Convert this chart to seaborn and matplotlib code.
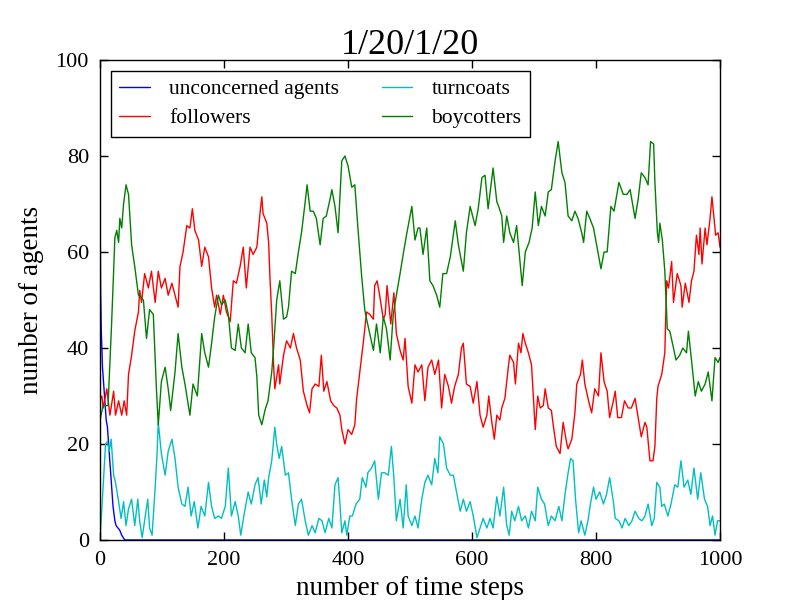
import matplotlib
matplotlib.use("Agg")
import matplotlib.pyplot as plt
import pandas as pd
import seaborn as sns

# ---- data (time step, number of agents) ----
unconcerned_steps = [0, 1, 2, 4, 7, 10, 12, 15, 18, 21, 24, 26, 32, 35, 40, 1000]
unconcerned_vals = [74, 52, 44, 36, 30.5, 25, 23.5, 18, 12.5, 7, 4, 3, 2, 1, 0, 0]

followers_steps = [0, 3, 5, 11, 16, 22, 25, 30, 35, 39, 43, 46, 51, 56, 62, 64, 67, 72, 78, 83, 89, 94, 99,
                   105, 110, 116, 121, 126, 129, 134, 140, 145, 149, 153, 159, 164, 169, 175, 180, 185, 188,
                   194, 199, 204, 210, 215, 220, 226, 231, 236, 242, 247, 253, 258, 261, 263, 269, 272, 274,
                   277, 280, 282, 288, 290, 296, 301, 307, 312, 317, 323, 328, 334, 338, 342, 347, 353, 357,
                   361, 366, 372, 377, 382, 387, 390, 395, 400, 406, 411, 414, 419, 425, 430, 435, 441, 443,
                   447, 451, 457, 460, 463, 469, 474, 478, 484, 489, 492, 497, 503, 508, 513, 519, 524, 529,
                   535, 540, 546, 551, 556, 562, 567, 572, 578, 583, 586, 591, 597, 602, 608, 613, 618, 624,
                   627, 632, 636, 640, 645, 648, 653, 659, 661, 667, 670, 675, 679, 682, 686, 691, 696, 702,
                   706, 710, 715, 718, 723, 728, 732, 736, 742, 747, 753, 755, 761, 766, 769, 775, 778, 782,
                   788, 793, 798, 804, 808, 813, 818, 822, 828, 831, 835, 841, 846, 852, 857, 863, 868, 873,
                   879, 882, 887, 892, 895, 898, 900, 906, 911, 914, 917, 922, 925, 931, 937, 939, 944, 950,
                   954, 958, 962, 966, 968, 971, 976, 979, 984, 987, 993, 997, 1000]
followers_vals = [29, 30, 27.5, 31.5, 26, 31, 26, 29, 26, 29, 26, 34.5, 38.5, 43.5, 47.5, 52, 49.5, 55.5, 52.5,
                  56, 49.5, 56, 52.5, 54.5, 51, 53.5, 51, 48.5, 57, 60, 65.5, 65, 69, 64.5, 62.5, 57, 61, 59,
                  52.5, 48.5, 51, 47, 51, 47.5, 45.5, 54, 53.5, 57, 61, 52.5, 61, 59.5, 61, 68, 71.5, 68, 66,
                  62, 55, 47, 36.5, 31.5, 36.5, 32.5, 38.5, 41.5, 40, 43, 40, 37.5, 31, 28, 26.5, 31.5, 32.5,
                  32, 38.5, 31, 33, 29, 28, 27.5, 26, 23, 20, 23, 22, 24, 29.5, 35, 41.5, 47.5, 47, 46, 53,
                  54, 51, 46, 47, 53, 45, 51.5, 43, 39.5, 37.5, 42, 32, 28.5, 36.5, 35, 36.5, 29, 36, 37.5,
                  34.5, 37.5, 27.5, 34.5, 32, 28.5, 32, 34.5, 40, 41, 32.5, 32, 28.5, 33, 26, 23.5, 26, 30,
                  24.5, 21, 26, 25, 27.5, 29.5, 36.5, 38.5, 37, 32.5, 41, 39, 43, 41, 39, 36.5, 23, 30, 27.5,
                  28, 31.5, 27.5, 27, 23, 19.5, 18, 24.5, 20, 19, 21, 26.5, 32.5, 34.5, 37.5, 32.5, 29, 26.5,
                  31.5, 30, 39, 33, 31, 25.5, 29, 31, 25.5, 25.5, 29, 27.5, 27.5, 29.5, 25.5, 21.5, 24.5,
                  23.5, 16.5, 16.5, 19.5, 29.5, 32, 34.5, 39, 54, 52.5, 58, 49.5, 55.5, 53, 48.5, 53.5, 49.5,
                  54, 56, 63.5, 59.5, 65, 57.5, 65, 61.5, 67, 71.5, 63.5, 64, 61]

turncoats_steps = [0, 5, 9, 12, 15, 18, 22, 25, 30, 34, 38, 42, 46, 51, 56, 61, 64, 68, 73, 77, 80, 84, 89, 92,
                   94, 99, 105, 110, 116, 121, 126, 132, 137, 142, 147, 152, 158, 163, 169, 175, 180, 185,
                   191, 196, 202, 207, 212, 218, 223, 227, 232, 239, 244, 250, 255, 260, 265, 269, 272, 277,
                   282, 285, 289, 293, 299, 304, 309, 315, 320, 325, 331, 336, 342, 347, 353, 358, 363, 369,
                   374, 379, 384, 387, 390, 395, 398, 403, 407, 413, 419, 423, 429, 432, 438, 443, 449, 454,
                   459, 465, 470, 474, 478, 484, 489, 494, 497, 503, 508, 513, 519, 524, 529, 535, 540, 545,
                   548, 554, 559, 565, 570, 575, 581, 586, 591, 597, 602, 608, 613, 618, 624, 629, 634, 640,
                   645, 651, 656, 660, 664, 669, 675, 680, 686, 691, 696, 702, 706, 712, 717, 723, 728, 734,
                   740, 745, 750, 755, 759, 763, 767, 772, 776, 782, 787, 791, 796, 800, 806, 812, 817, 822,
                   828, 831, 837, 842, 847, 853, 858, 863, 869, 874, 879, 884, 890, 894, 898, 903, 906, 910,
                   916, 921, 927, 932, 937, 942, 948, 953, 958, 964, 969, 975, 980, 984, 988, 992, 996, 1000]
turncoats_vals = [0, 11, 20, 20.5, 18.5, 21, 13.5, 12, 8, 4.5, 8, 3, 6.5, 8.5, 3, 8.5, 4, 0.5, 5, 8.5, 2.5, 1,
                  11, 18, 24.5, 18, 13.5, 18.5, 21, 17, 11, 7.5, 7, 11, 5, 8, 2.5, 7, 5, 12, 7, 4.5, 5, 4.5,
                  7, 15, 5, 8, 5, 1, 5, 10, 7.5, 11.5, 13, 7.5, 12.5, 9, 13, 16.5, 23.5, 20, 17, 19.5, 13.5,
                  14, 8.5, 3, 7.5, 8.5, 4, 1, 3, 1.5, 4.5, 4, 1.5, 4.5, 2.5, 11.5, 13, 7.5, 1.5, 4, 1, 5, 5,
                  7.5, 8.5, 13, 11, 14, 15, 16.5, 8.5, 14, 14, 13.5, 19.5, 13, 4, 8.5, 2.5, 11.5, 5, 3, 5,
                  2.5, 8.5, 12, 13.5, 11.5, 17, 14, 21.5, 20, 15, 13.5, 13.5, 10, 6, 8.5, 6, 8, 5, 0.5, 2.5,
                  4.5, 2.5, 4.5, 2.5, 9, 5, 11, 3, 1, 6, 4, 7, 4, 5, 2.5, 6, 4, 11, 8.5, 7.5, 3, 5, 4, 7, 4,
                  9.5, 14, 17, 16.5, 8.5, 1.5, 4, 1, 4, 7.5, 11, 8.5, 10, 7.5, 9.5, 13, 8, 4.5, 4, 2.5, 4.5,
                  3, 4, 6, 4.5, 4, 5, 7.5, 3, 4.5, 12, 11, 7, 7.5, 5, 7.5, 11.5, 11, 16.5, 11, 12.5, 9.5, 15,
                  8.5, 14, 8.5, 7, 3, 5, 1, 4, 4]

boycotters_steps = [0, 5, 13, 19, 24, 27, 30, 32, 35, 38, 42, 46, 51, 56, 62, 70, 75, 80, 86, 91, 94, 99, 105,
                    110, 114, 121, 126, 132, 137, 145, 150, 157, 164, 169, 175, 180, 185, 191, 196, 202, 207,
                    212, 218, 223, 228, 234, 239, 244, 250, 253, 256, 261, 266, 271, 277, 280, 285, 290, 296,
                    301, 304, 309, 315, 320, 325, 331, 334, 339, 344, 349, 355, 360, 365, 371, 374, 379, 384,
                    390, 395, 400, 406, 411, 416, 422, 427, 430, 435, 441, 446, 452, 457, 462, 468, 473, 478,
                    484, 489, 495, 503, 508, 513, 516, 521, 527, 532, 537, 543, 548, 553, 559, 565, 573, 578,
                    586, 591, 597, 605, 610, 616, 621, 626, 634, 640, 643, 648, 651, 656, 661, 667, 672, 677,
                    681, 686, 692, 697, 702, 707, 712, 718, 723, 728, 734, 739, 745, 750, 755, 761, 766, 771,
                    777, 780, 785, 790, 796, 801, 808, 813, 818, 824, 829, 837, 844, 850, 855, 863, 868, 873,
                    879, 884, 888, 893, 895, 899, 901, 903, 907, 911, 915, 919, 925, 929, 935, 940, 946, 949,
                    954, 960, 965, 970, 976, 981, 987, 992, 997, 1000]
boycotters_vals = [25, 28, 28, 46, 63, 64.5, 62, 67, 65, 70, 74, 72, 61.5, 57, 51, 50, 42, 48, 47, 31.5, 24,
                   33, 36, 31.5, 27, 35, 43, 36, 32.5, 26, 32.5, 30, 43, 39, 36, 41, 46.5, 51, 49, 50, 47, 40,
                   39.5, 45, 40, 39, 45, 39, 38, 34, 26, 24, 27, 29, 35, 40, 50, 54, 46, 46.5, 48.5, 56, 55.5,
                   60, 64, 70.5, 74, 68.5, 68.5, 67, 61.5, 67, 67.5, 71, 73, 69.5, 64, 79, 80, 78, 73.5, 74,
                   65, 55, 48, 46, 43, 39.5, 45, 39, 46.5, 44, 37.5, 47, 51, 55.5, 59.5, 64, 69.5, 62.5, 65,
                   65, 59.5, 65, 54, 53, 51, 48.5, 55.5, 55.5, 59, 66.5, 61.5, 56, 64, 69.5, 65.5, 69, 75.5,
                   76, 69, 77.5, 70.5, 69.5, 67.5, 62, 67.5, 64, 62, 65.5, 58.5, 53, 60, 62, 65, 72.5, 65.5,
                   69.5, 67.5, 72.5, 73, 79, 83, 76.5, 74.5, 67.5, 66.5, 68.5, 67, 64, 62, 68.5, 67, 65, 61.5,
                   56.5, 60, 60, 69.5, 68.5, 74.5, 72, 72, 73, 67, 71, 76.5, 75.5, 74, 83, 82.5, 74.5, 64, 62,
                   66, 62.5, 56, 44, 43.5, 40, 37.5, 38.5, 40, 39, 43.5, 37.5, 30, 33, 31, 32.5, 35, 29, 38,
                   37, 38]

series_names = ["unconcerned agents", "followers", "turncoats", "boycotters"]
series_colors = ["#0000ff", "#ff0000", "#00bfbf", "#008000"]
x_ticks = [0, 200, 400, 600, 800, 1000]
y_ticks = [0, 20, 40, 60, 80, 100]
title_text = "1/20/1/20"
x_label = "number of time steps"
y_label = "number of agents"

# ---- build long-form table ----
frames = []
for name, st, vals in zip(series_names,
                          [unconcerned_steps, followers_steps, turncoats_steps, boycotters_steps],
                          [unconcerned_vals, followers_vals, turncoats_vals, boycotters_vals]):
    frames.append(pd.DataFrame({"step": st, "agents": vals, "series": name}))
df = pd.concat(frames, ignore_index=True)

sns.set_theme(style="ticks", rc={
    "axes.facecolor": "white",
    "figure.facecolor": "white",
    "axes.edgecolor": "black",
    "axes.linewidth": 1.0,
    "xtick.color": "black",
    "ytick.color": "black",
    "text.color": "black",
    "axes.labelcolor": "black",
})
plt.rcParams["font.family"] = ["Liberation Serif", "DejaVu Serif"]

fig, ax = plt.subplots(figsize=(8, 6), dpi=100)
fig.subplots_adjust(left=0.125, right=0.9, bottom=0.1, top=0.9)

sns.lineplot(data=df, x="step", y="agents", hue="series", hue_order=series_names,
             palette=dict(zip(series_names, series_colors)), estimator=None, sort=True,
             linewidth=1.0, ax=ax)

ax.set_xlim(0, 1000)
ax.set_ylim(0, 100)
ax.set_xticks(x_ticks)
ax.set_yticks(y_ticks)
ax.tick_params(direction="in", top=True, right=True, length=6, width=1, labelsize=16, pad=8)
for s in ax.spines.values():
    s.set_visible(True)
    s.set_color("black")
    s.set_linewidth(1.0)

ax.set_title(title_text, fontsize=26, pad=4)
ax.set_xlabel(x_label, fontsize=19.5, labelpad=4)
ax.set_ylabel(y_label, fontsize=19.5, labelpad=8)

old = ax.get_legend()
handles = old.legend_handles
labels = [t.get_text() for t in old.get_texts()]
old.remove()
leg = ax.legend(handles, labels, loc="upper left", ncol=2, fancybox=False, frameon=True,
                edgecolor="black", framealpha=1, fontsize=15.5, borderaxespad=0.5,
                handlelength=1.4, handletextpad=0.9, columnspacing=2.0, borderpad=0.4,
                labelspacing=0.4)
leg.get_frame().set_linewidth(1.0)
for h in leg.legend_handles:
    h.set_linewidth(1.0)

fig.savefig("out.png", dpi=100)
